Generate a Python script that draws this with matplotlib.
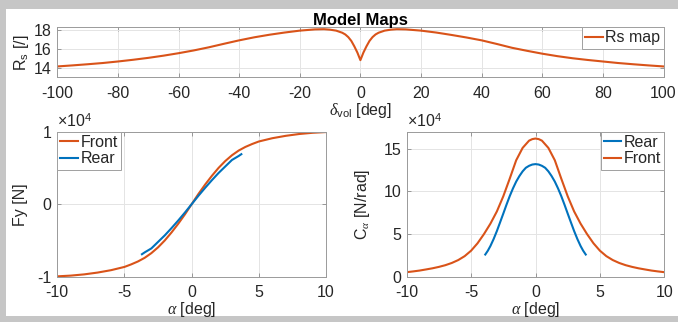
import matplotlib
matplotlib.use('Agg')
import matplotlib.pyplot as plt
from matplotlib.patches import Rectangle
from matplotlib.ticker import FuncFormatter

plt.rcParams['font.family'] = 'Liberation Sans'
plt.rcParams['font.size'] = 11.5
plt.rcParams['axes.unicode_minus'] = False
plt.rcParams['mathtext.fontset'] = 'custom'
plt.rcParams['mathtext.rm'] = 'Liberation Sans'
plt.rcParams['mathtext.it'] = 'Liberation Serif:italic'
plt.rcParams['mathtext.bf'] = 'Liberation Sans:bold'

ORANGE = '#D95319'
BLUE = '#0072BD'
TXT = '#262626'

# steering ratio map vs steering wheel angle
delta_vol = [-100, -95, -90, -85, -80, -75, -70, -65, -60, -55, -50, -45, -40, -35, -30,
             -25, -20, -15, -12, -10, -8, -6, -5, -4, -3, -2, -1, -0.5, 0,
             0.5, 1, 2, 3, 4, 5, 6, 8, 10, 12, 15, 20, 25, 30, 35, 40,
             45, 50, 55, 60, 65, 70, 75, 80, 85, 90, 95, 100]
rs_map = [14.14, 14.25, 14.37, 14.5, 14.66, 14.84, 15.04, 15.27, 15.53, 15.82, 16.15, 16.52, 16.88, 17.2, 17.47,
          17.7, 17.9, 18.03, 18.05, 18.0, 17.9, 17.68, 17.5, 17.22, 16.82, 16.25, 15.6, 15.2, 14.8,
          15.2, 15.6, 16.25, 16.82, 17.22, 17.5, 17.68, 17.9, 18.0, 18.05, 18.03, 17.9, 17.7, 17.45, 17.18, 16.88,
          16.5, 16.1, 15.78, 15.48, 15.22, 15.0, 14.82, 14.66, 14.5, 14.37, 14.25, 14.14]

# lateral force curves [N]
alpha_front = [-10, -9, -8, -7, -6, -5, -4.5, -4, -3.5, -3, -2.5, -2, -1.5, -1, -0.5, 0,
               0.5, 1, 1.5, 2, 2.5, 3, 3.5, 4, 4.5, 5, 6, 7, 8, 9, 10]
fy_front = [-9950, -9850, -9680, -9430, -9100, -8650, -8300, -7900, -7400, -6750, -5950, -5000, -3900, -2700, -1400, 0,
            1400, 2700, 3900, 5000, 5950, 6750, 7400, 7900, 8300, 8650, 9100, 9430, 9680, 9850, 9950]
alpha_rear = [-3.7, -3.5, -3, -2.5, -2, -1.5, -1, -0.5, 0, 0.5, 1, 1.5, 2, 2.5, 3, 3.5, 3.7]
fy_rear = [-6900, -6650, -6100, -5200, -4300, -3300, -2250, -1150, 0,
           1150, 2250, 3300, 4300, 5200, 6100, 6650, 6900]

# cornering stiffness [N/rad]
alpha_front_ca = [-10, -9.5, -9, -8.5, -8, -7.5, -7, -6.5, -6, -5.5, -5, -4.5, -4, -3.5, -3, -2.5, -2, -1.5, -1, -0.5,
                  -0.25, 0, 0.25,
                  0.5, 1, 1.5, 2, 2.5, 3, 3.5, 4, 4.5, 5, 5.5, 6, 6.5, 7, 7.5, 8, 8.5, 9, 9.5, 10]
ca_front = [5300, 6200, 7200, 8500, 9850, 11500, 13500, 16100, 19500, 24100, 30500, 39200, 50000, 62200, 76500, 94300,
            115000, 136500, 151000, 159500, 161300, 162000, 161300,
            159500, 151000, 136500, 115000, 94300, 76500, 62200, 50000, 39200, 30500, 24100, 19500, 16100, 13500,
            11500, 9850, 8500, 7200, 6200, 5300]
alpha_rear_ca = [-3.9, -3.7, -3.5, -3.25, -3, -2.75, -2.5, -2.25, -2, -1.75, -1.5, -1.25, -1, -0.75, -0.5, -0.25, 0,
                 0.25, 0.5, 0.75, 1, 1.25, 1.5, 1.75, 2, 2.25, 2.5, 2.75, 3, 3.25, 3.5, 3.7, 3.9]
ca_rear = [26000, 30500, 36000, 44200, 53500, 63700, 74000, 84500, 94500, 103500, 111500, 118000, 123500, 127700,
           130000, 131500, 132000,
           131500, 130000, 127700, 123500, 118000, 111500, 103500, 94500, 84500, 74000, 63700, 53500, 44200,
           36000, 30500, 26000]

fig = plt.figure(figsize=(6.78, 3.22), dpi=100, facecolor='#c6c6c6')
fig.add_artist(Rectangle((6 / 678, 6 / 322), 672 / 678, 307 / 322, transform=fig.transFigure,
                         facecolor='white', edgecolor='none', zorder=-10))

ax1 = fig.add_axes([57.3 / 678, 1 - 77.3 / 322, 606.2 / 678, 50 / 322])
ax2 = fig.add_axes([57.3 / 678, 1 - 276.7 / 322, 268.7 / 678, 145 / 322])
ax3 = fig.add_axes([406.7 / 678, 1 - 276.7 / 322, 257.6 / 678, 145 / 322])


def style(ax):
    ax.grid(True, color='#e4e4e4', linewidth=0.7)
    ax.set_axisbelow(True)
    ax.tick_params(direction='in', length=3, width=0.6, color='#8a8a8a', labelcolor=TXT,
                   top=True, right=True, labelsize=11.5)
    ax.tick_params(axis='x', pad=6)
    ax.tick_params(axis='y', pad=4)
    for s in ax.spines.values():
        s.set_color('#9a9a9a')
        s.set_linewidth(0.7)


def legend(ax, loc):
    leg = ax.legend(loc=loc, borderaxespad=0, handlelength=1.1, handletextpad=0.15,
                    borderpad=0.2, labelspacing=0.1, fancybox=False, framealpha=1,
                    edgecolor='#a0a0a0', fontsize=11.5)
    leg.get_frame().set_linewidth(0.7)
    for t in leg.get_texts():
        t.set_color(TXT)


# top: Rs map
ax1.plot(delta_vol, rs_map, color=ORANGE, lw=1.5, label='Rs map')
ax1.set_xlim(-100, 100)
ax1.set_ylim(13.0, 18.25)
ax1.set_xticks(range(-100, 101, 20))
ax1.set_yticks([14, 16, 18])
style(ax1)
ax1.set_title('Model Maps', fontweight='bold', fontsize=12, pad=2)
ax1.set_xlabel(r'$\delta_{\rm vol}$ [deg]', color=TXT, labelpad=0)
ax1.set_ylabel(r'R$_{\rm s}$ [/]', color=TXT, labelpad=2)
legend(ax1, 'upper right')

# bottom left: Fy
ax2.plot(alpha_front, fy_front, color=ORANGE, lw=1.5, label='Front')
ax2.plot(alpha_rear, fy_rear, color=BLUE, lw=1.5, label='Rear')
ax2.set_xlim(-10, 10)
ax2.set_ylim(-10000, 10000)
ax2.set_xticks([-10, -5, 0, 5, 10])
ax2.set_yticks([-10000, 0, 10000])
style(ax2)
ax2.set_xlabel(r'$\alpha$ [deg]', color=TXT, labelpad=0)
ax2.set_ylabel('Fy [N]', color=TXT, labelpad=7)
legend(ax2, 'upper left')

# bottom right: cornering stiffness
ax3.plot(alpha_rear_ca, ca_rear, color=BLUE, lw=1.5, label='Rear')
ax3.plot(alpha_front_ca, ca_front, color=ORANGE, lw=1.5, label='Front')
ax3.set_xlim(-10, 10)
ax3.set_ylim(0, 170000)
ax3.set_xticks([-10, -5, 0, 5, 10])
ax3.set_yticks([0, 50000, 100000, 150000])
style(ax3)
ax3.set_xlabel(r'$\alpha$ [deg]', color=TXT, labelpad=0)
ax3.set_ylabel(r'C$_\alpha$ [N/rad]', color=TXT, labelpad=8)
legend(ax3, 'upper right')

# y tick labels in units of 10^4 with the exponent above the axes
for ax in (ax2, ax3):
    ax.yaxis.set_major_formatter(FuncFormatter(lambda v, p: '%g' % (v / 1e4)))
    ax.text(0.0, 1.015, r'$\times\mathrm{10}^{\mathrm{4}}$', transform=ax.transAxes,
            ha='left', va='bottom', fontsize=11.5, color=TXT)

fig.savefig('out.png', dpi=100, facecolor=fig.get_facecolor())
